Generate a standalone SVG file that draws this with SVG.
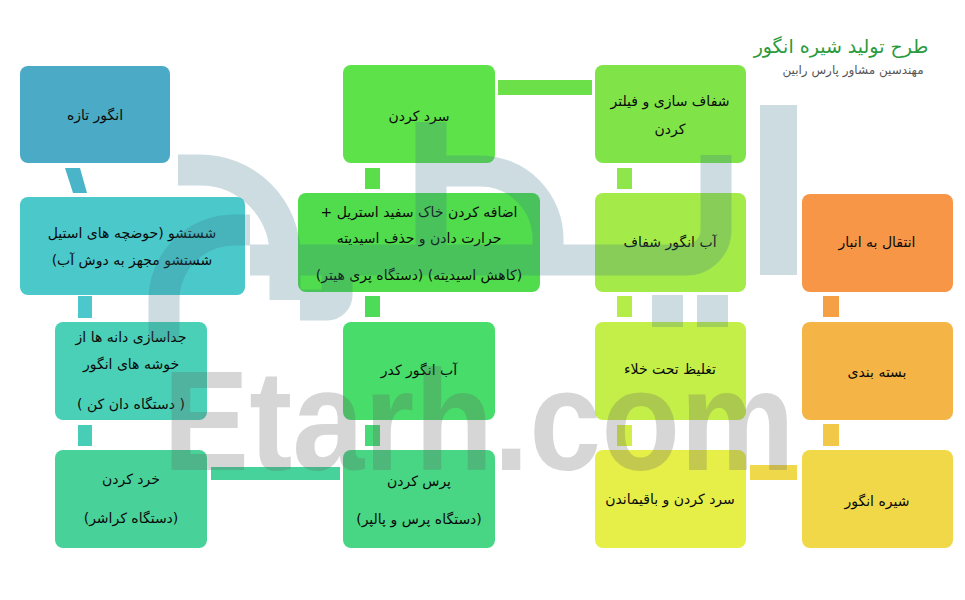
<svg xmlns="http://www.w3.org/2000/svg" width="965" height="600" viewBox="0 0 965 600">
<style>
.box{stroke:none}
.t{font-family:"DejaVu Sans",sans-serif;font-size:14px;fill:#0a0a0a;text-anchor:middle}
.title{font-family:"DejaVu Sans",sans-serif;font-size:19px;fill:#2a9a3c;text-anchor:middle}
.sub{font-family:"DejaVu Sans",sans-serif;font-size:12px;fill:#555;text-anchor:middle}
.wm{fill:none;stroke:#3c788c;stroke-width:31}
</style>
<rect width="965" height="600" fill="#ffffff"/>
<g id="title">
<text class="title" x="841" y="53" direction="rtl">طرح تولید شیره انگور</text>
<text class="sub" x="853" y="74" direction="rtl">مهندسین مشاور پارس رابین</text>
</g>
<g id="connectors">
<polygon points="65,168 80,168 87,193 73,193" fill="#4ab4c8"/>
<rect x="78" y="296" width="14" height="22" fill="#4cc8cc"/>
<rect x="78" y="425" width="14" height="21" fill="#48ceb6"/>
<rect x="211" y="467" width="129" height="13" fill="#46d29a"/>
<rect x="365" y="168" width="15" height="21" fill="#5ade4a"/>
<rect x="365" y="296" width="15" height="21" fill="#4cdc58"/>
<rect x="365" y="425" width="15" height="21" fill="#48da78"/>
<rect x="498" y="80" width="94" height="15" fill="#6ce048"/>
<rect x="617" y="168" width="15" height="21" fill="#8ee64a"/>
<rect x="617" y="296" width="15" height="21" fill="#b4ec48"/>
<rect x="617" y="425" width="15" height="21" fill="#d4ee48"/>
<rect x="750" y="465" width="47" height="15" fill="#efd84a"/>
<rect x="823" y="296" width="16" height="21" fill="#f6a046"/>
<rect x="823" y="424" width="16" height="22" fill="#f2c848"/>
</g>
<g id="n1"><rect class="box" x="20" y="66" width="150" height="97" rx="8" fill="#4baac6"/><text class="t" x="95" y="120" direction="rtl">انگور تازه</text></g>
<g id="n2"><rect class="box" x="20" y="197" width="225" height="98" rx="8" fill="#4bc8ca"/><text class="t" x="132" y="238" direction="rtl">شستشو (حوضچه های استیل</text><text class="t" x="132" y="265" direction="rtl">شستشو مجهز به دوش آب)</text></g>
<g id="n3"><rect class="box" x="55" y="322" width="152" height="98" rx="8" fill="#4ad0b6"/><text class="t" x="131" y="342" direction="rtl">جداسازی دانه ها از</text><text class="t" x="131" y="369" direction="rtl">خوشه های انگور</text><text class="t" x="131" y="409" direction="rtl">( دستگاه دان کن )</text></g>
<g id="n4"><rect class="box" x="55" y="450" width="152" height="98" rx="8" fill="#48d29a"/><text class="t" x="131" y="484" direction="rtl">خرد کردن</text><text class="t" x="131" y="523" direction="rtl">(دستگاه کراشر)</text></g>
<g id="n5"><rect class="box" x="343" y="65" width="152" height="98" rx="8" fill="#5ee24a"/><text class="t" x="419" y="121" direction="rtl">سرد کردن</text></g>
<g id="n6"><rect class="box" x="298" y="193" width="242" height="99" rx="8" fill="#50dc4c"/><text class="t" x="419" y="217" direction="rtl">اضافه کردن خاک سفید استریل +</text><text class="t" x="419" y="243" direction="rtl">حرارت دادن و حذف اسیدیته</text><text class="t" x="419" y="280" direction="rtl">(کاهش اسیدیته) (دستگاه پری هیتر)</text></g>
<g id="n7"><rect class="box" x="343" y="322" width="152" height="98" rx="8" fill="#48dc6a"/><text class="t" x="419" y="375" direction="rtl">آب انگور کدر</text></g>
<g id="n8"><rect class="box" x="343" y="450" width="152" height="98" rx="8" fill="#48d684"/><text class="t" x="419" y="486" direction="rtl">پرس کردن</text><text class="t" x="419" y="524" direction="rtl">(دستگاه پرس و پالپر)</text></g>
<g id="n9"><rect class="box" x="595" y="65" width="151" height="98" rx="8" fill="#80e448"/><text class="t" x="670" y="106" direction="rtl">شفاف سازی و فیلتر</text><text class="t" x="670" y="134" direction="rtl">کردن</text></g>
<g id="n10"><rect class="box" x="595" y="193" width="151" height="99" rx="8" fill="#a4ea48"/><text class="t" x="670" y="247" direction="rtl">آب انگور شفاف</text></g>
<g id="n11"><rect class="box" x="595" y="322" width="151" height="98" rx="8" fill="#c4ee48"/><text class="t" x="670" y="374" direction="rtl">تغلیظ تحت خلاء</text></g>
<g id="n12"><rect class="box" x="595" y="450" width="151" height="98" rx="8" fill="#e6ee48"/><text class="t" x="670" y="504" direction="rtl">سرد کردن و باقیماندن</text></g>
<g id="n13"><rect class="box" x="802" y="194" width="151" height="98" rx="8" fill="#f79646"/><text class="t" x="877" y="247" direction="rtl">انتقال به انبار</text></g>
<g id="n14"><rect class="box" x="802" y="322" width="151" height="98" rx="8" fill="#f4b446"/><text class="t" x="877" y="377" direction="rtl">بسته بندی</text></g>
<g id="n15"><rect class="box" x="802" y="450" width="151" height="98" rx="8" fill="#f0d848"/><text class="t" x="877" y="506" direction="rtl">شیره انگور</text></g>
<g id="watermark-logo" opacity="0.25">
<path class="wm" d="M178,170 H200 A85 85 0 0 1 285,255 V300"/>
<path class="wm" d="M164,340 V300 A70 70 0 0 1 234,230 H250"/>
<path class="wm" d="M250,260 H686 A30 30 0 0 0 716,230 V155"/>
<path class="wm" d="M431,122 V260"/>
<path class="wm" d="M431,171 H480 A68 68 0 0 1 548,239 V260"/>
<path class="wm" d="M337,260 V295 A10 10 0 0 1 327,305 H300"/>
<rect x="760" y="105" width="37" height="170" fill="#3c788c"/>
<rect x="652" y="295" width="31" height="32" fill="#3c788c"/>
<rect x="697" y="295" width="31" height="32" fill="#3c788c"/>
</g>
<g id="watermark-text" opacity="0.25">
<text x="163" y="470" font-family="Liberation Sans, Arial, sans-serif" font-weight="bold" font-size="143" fill="#606060" textLength="632" lengthAdjust="spacingAndGlyphs">Etarh.com</text>
</g>
</svg>
